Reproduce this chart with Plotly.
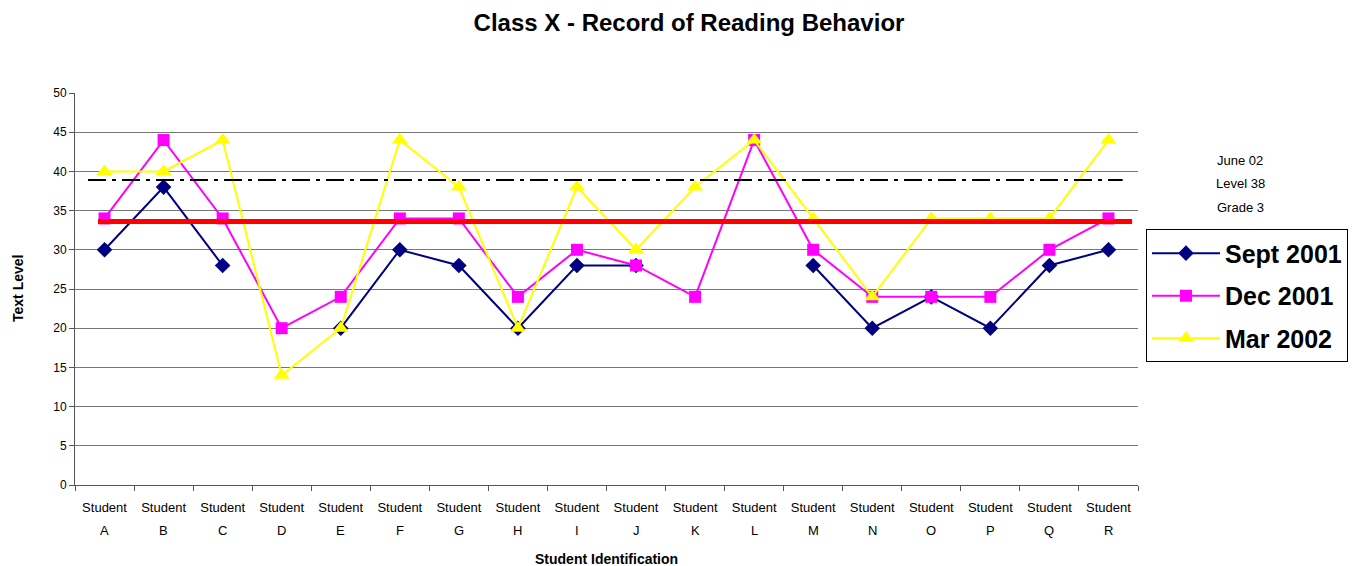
import plotly.graph_objects as go

students = ["A", "B", "C", "D", "E", "F", "G", "H", "I", "J", "K", "L", "M", "N", "O", "P", "Q", "R"]
sept_2001 = [30, 38, 28, None, 20, 30, 28, 20, 28, 28, None, None, 28, 20, 24, 20, 28, 30]
dec_2001 = [34, 44, 34, 20, 24, 34, 34, 24, 30, 28, 24, 44, 30, 24, 24, 24, 30, 34]
mar_2002 = [40, 40, 44, 14, 20, 44, 38, 20, 38, 30, 38, 44, 34, 24, 34, 34, 34, 44]
class_average = 33.6
june_target = 38.9
target_notes = ["June 02", "Level 38", "Grade 3"]

FONT = "Liberation Sans, Arial, sans-serif"

fig = go.Figure()

series = [
    ("Sept 2001", sept_2001, "#000080", "diamond", 12),
    ("Dec 2001", dec_2001, "#FF00FF", "square", 12),
    ("Mar 2002", mar_2002, "#FFFF00", "triangle-up", 14),
]
for name, vals, col, sym, sz in series:
    fig.add_trace(go.Scatter(
        x=students, y=vals, name="<b>" + name + "</b>", mode="lines+markers",
        line=dict(color=col, width=2),
        marker=dict(symbol=sym, size=sz, color=col, line=dict(width=0)),
        connectgaps=False, legendgroup=name,
    ))

# reference lines
fig.add_shape(type="line", xref="x", yref="y", x0=-0.28, x1=17.24,
              y0=june_target, y1=june_target,
              line=dict(color="black", width=2, dash="18px,6px,4px,6px"), layer="above")
fig.add_shape(type="line", xref="x", yref="y", x0=-0.11, x1=17.4,
              y0=class_average, y1=class_average,
              line=dict(color="#FF0000", width=5), layer="above")

# student letters under the tick labels
for s in students:
    fig.add_annotation(x=s, xref="x", y=0, yref="paper", text=s, showarrow=False,
                       yshift=-55, font=dict(family=FONT, size=13, color="black"))

# target notes
for i, t in enumerate(target_notes):
    fig.add_annotation(x=1.096, xref="paper", y=(485 - (160 + i * 23.5)) / 392, yref="paper",
                       text=t, showarrow=False, xanchor="center", yanchor="middle",
                       font=dict(family=FONT, size=13, color="black"))

# axis titles
fig.add_annotation(x=0.5, xref="paper", y=0, yref="paper", yshift=-74,
                   text="<b>Student Identification</b>", showarrow=False,
                   xanchor="center", yanchor="middle",
                   font=dict(family=FONT, size=14, color="black"))
fig.add_annotation(x=0, xref="paper", y=0.5, yref="paper", xshift=-57,
                   text="<b>Text Level</b>", showarrow=False, textangle=-90,
                   xanchor="center", yanchor="middle",
                   font=dict(family=FONT, size=14, color="black"))

fig.update_layout(
    width=1362, height=566,
    margin=dict(l=67, r=232, t=85, b=89),
    paper_bgcolor="white", plot_bgcolor="white",
    title=dict(text="<b>Class X - Record of Reading Behavior</b>", x=0.5, xref="container",
               xanchor="center", y=0.975, yanchor="middle",
               font=dict(family=FONT, size=24, color="black")),
    font=dict(family=FONT, color="black"),
    showlegend=True,
    legend=dict(x=1.0075, y=0.652, xanchor="left", yanchor="top",
                bordercolor="black", borderwidth=1, bgcolor="white",
                font=dict(family=FONT, size=25, color="black"),
                traceorder="grouped", tracegroupgap=7,
                itemwidth=68),
    xaxis=dict(
        type="category", categoryorder="array", categoryarray=students,
        tickmode="array", tickvals=students, ticktext=["Student"] * len(students),
        ticks="outside", ticklen=5, tickcolor="#555", tickson="boundaries",
        ticklabelstandoff=10,
        showline=True, linecolor="#555", linewidth=1, showgrid=False,
        tickfont=dict(family=FONT, size=13, color="black"),
        range=[-0.5, 17.5], automargin=False,
    ),
    yaxis=dict(
        range=[0, 50], dtick=5, tick0=0,
        ticks="outside", ticklen=5, tickcolor="#555",
        showline=True, linecolor="#555", linewidth=1,
        showgrid=True, gridcolor="#777", gridwidth=1, zeroline=False,
        tickfont=dict(family=FONT, size=12, color="black"),
        automargin=False,
    ),
)

fig.write_html("out.html")
